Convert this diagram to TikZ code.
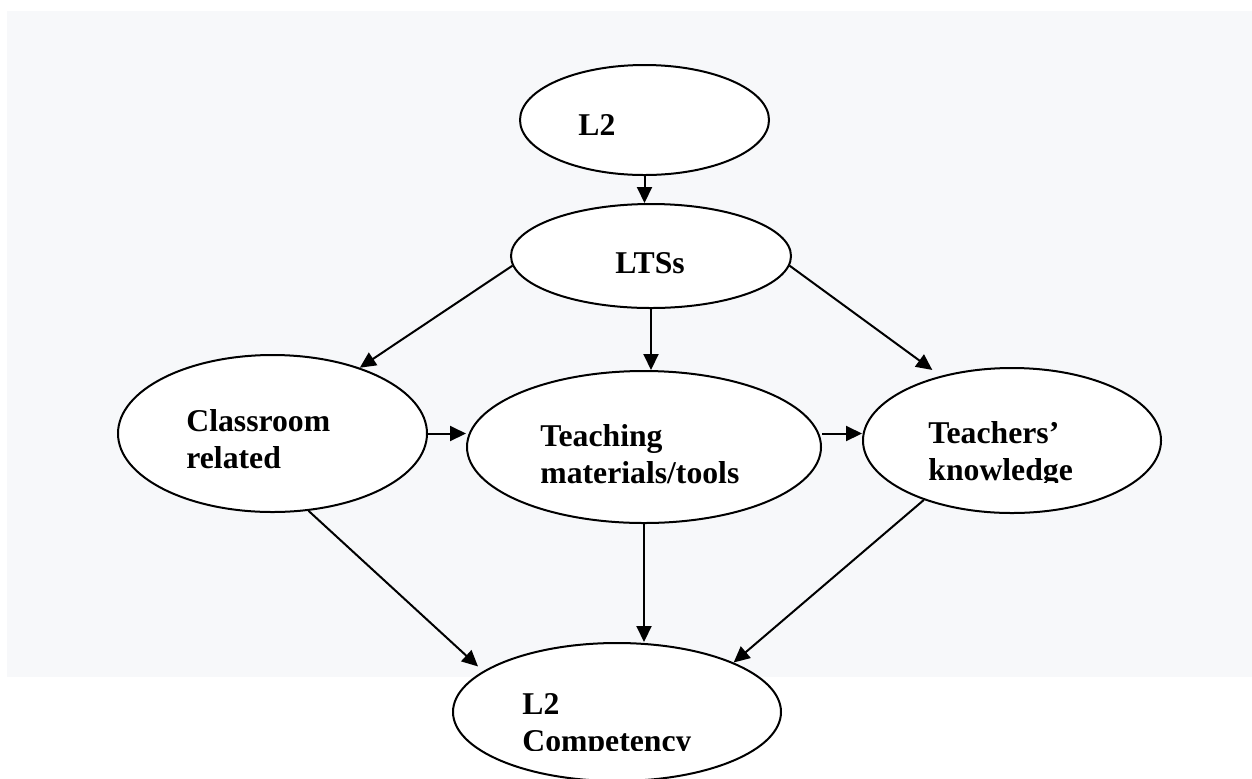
\documentclass[tikz,border=0pt]{standalone}
\usepackage{fontspec}
\setmainfont{Liberation Serif}
\usetikzlibrary{shapes.geometric,arrows.meta}
\definecolor{bgray}{HTML}{F7F8FA}
\begin{document}
\begin{tikzpicture}[x=0.5pt,y=-0.5pt,
  oval/.style={draw,line width=1pt,ellipse,fill=white,inner sep=0pt},
  arr/.style={line width=1pt,-{Triangle[length=8pt,width=7.5pt]}},
  lbl/.style={font=\bfseries\fontsize{15.85}{18.5}\selectfont,anchor=base west,inner sep=0pt,align=left}]
\useasboundingbox (0,0) rectangle (1252,778);
\fill[bgray] (7,11) rectangle (1252,677);

\node[oval,minimum width=124.5pt,minimum height=55pt] (l2) at (644.5,120) {};
\node[oval,minimum width=140pt,minimum height=52pt] (lts) at (651,256) {};
\node[oval,minimum width=154.5pt,minimum height=78.5pt] (cls) at (272.5,433.5) {};
\node[oval,minimum width=177pt,minimum height=76pt] (tm) at (644,447) {};
\node[oval,minimum width=149pt,minimum height=72.5pt] (tk) at (1012,440.5) {};
\node[oval,minimum width=164pt,minimum height=69pt] (comp) at (617,712) {};

\node[lbl] (t1) at (578,135) {L2};
\node[lbl] (t2) at (615,273) {LTSs};
\node[lbl] (t3) at (186,468) {Classroom\\related};
\node[lbl] (t4) at (540,483) {Teaching\\materials/tools};
\begin{scope}
  \clip (800,300) rectangle (1200,482);
  \node[lbl] (t5) at (928,480) {Teachers'\\knowledge};
\end{scope}
\begin{scope}
  \clip (440,650) rectangle (800,750);
  \node[lbl] (t6) at (522,751) {L2\\Competency};
\end{scope}

\draw[arr] (l2.south) -- (l2.south |- lts.north);
\draw[arr] (lts.184) -- (cls.37);
\draw[arr] (lts.south) -- (lts.south |- tm.north);
\draw[arr] (lts.356) -- ([shift={(-8,-6)}]tk.138);
\draw[arr] (cls.east) -- (cls.east -| tm.west);
\draw[arr] (tm.east |- cls.east) -- (cls.east -| tk.west);
\draw[arr] (cls.-65) -- ([shift={(-8,-3)}]comp.162);
\draw[arr] (tm.south) -- (tm.south |- comp.north);
\draw[arr] (tk.214) -- (comp.23);
\end{tikzpicture}
\end{document}
